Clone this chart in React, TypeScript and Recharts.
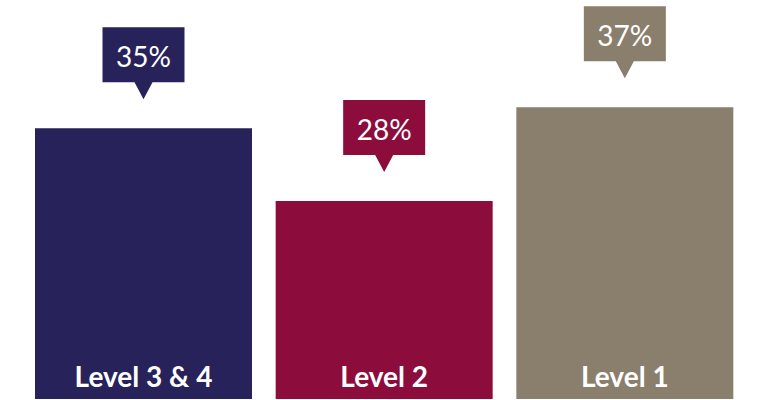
import React from 'react';
import { BarChart, Bar, XAxis, YAxis, Cell, LabelList } from 'recharts';

const levels = ['Level 3 & 4', 'Level 2', 'Level 1'];
const shares = [35, 28, 37];

const COLORS = ['#27225a', '#8c0c3c', '#8a7e6c'];
const FONT = 'Lato, "Noto Sans", sans-serif';

const data = levels.map((name, i) => ({ name, value: shares[i] }));

const colorFor = (props: any) => {
    const idx = typeof props.index === 'number' ? props.index : data.findIndex(d => d.value === props.value);
    return COLORS[idx] || COLORS[0];
};

// speech-bubble box above each bar
const Callout = (props: any) => {
    const { x, y, width, value } = props;
    const cx = Number(x) + Number(width) / 2;
    const tip = Number(y) - 29;
    const bh = 55, bw = 82, ph = 17, pw = 9;
    const top = tip - ph - bh;
    const d = `M${cx - bw / 2},${top} H${cx + bw / 2} V${top + bh} H${cx + pw} L${cx},${tip} L${cx - pw},${top + bh} H${cx - bw / 2} Z`;
    return (
        <g>
            <path d={d} fill={colorFor(props)} />
            <text x={cx} y={top + bh / 2 + 1} textAnchor="middle" dominantBaseline="central"
                fill="#ffffff" fontFamily={FONT} fontSize={28}>{value}%</text>
        </g>
    );
};

const CategoryLabel = (props: any) => {
    const { x, y, width, height, value } = props;
    return (
        <text x={Number(x) + Number(width) / 2} y={Number(y) + Number(height) - 12} textAnchor="middle"
            fill="#ffffff" fontFamily={FONT} fontWeight={700} fontSize={28}>{value}</text>
    );
};

const App: React.FC = () => {
    return (
        <div style={{ position: 'absolute', left: 0, top: 0, width: 760, height: 400, background: '#fff' }}>
            <BarChart width={760} height={400} data={data} barCategoryGap={12}
                margin={{ top: 0, right: 0, bottom: 1, left: 12 }}>
                <XAxis dataKey="name" tick={false} tickLine={false} height={0}
                    axisLine={{ stroke: '#c4c4c4', strokeWidth: 1.5 }}
                    padding={{ left: 11, right: 15 }} />
                <YAxis hide type="number" domain={[9, 47.3]} allowDataOverflow />
                <Bar dataKey="value" isAnimationActive={false}>
                    {data.map((entry, i) => (
                        <Cell key={entry.name} fill={COLORS[i]} />
                    ))}
                    <LabelList dataKey="value" content={Callout} />
                    <LabelList dataKey="name" content={CategoryLabel} />
                </Bar>
            </BarChart>
        </div>
    );
};

export default App;
